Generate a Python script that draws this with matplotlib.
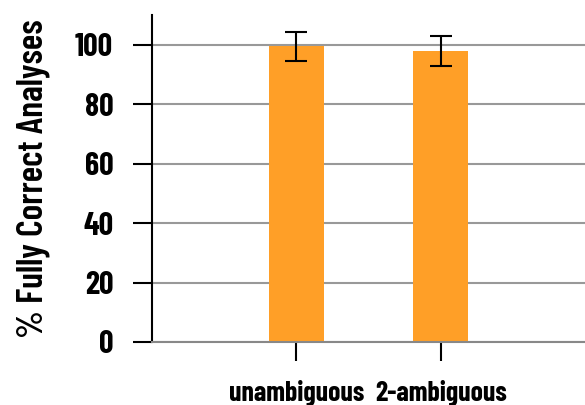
import matplotlib
matplotlib.use("Agg")
import matplotlib.pyplot as plt

# data
conditions = ["unambiguous", "2-ambiguous"]
pct_correct = [99.4, 98.0]
pct_err = [5.0, 5.0]
y_ticks = [0, 20, 40, 60, 80, 100]

plt.rcParams['font.family'] = ['Barlow Condensed', 'DejaVu Sans']
plt.rcParams['font.weight'] = 'bold'

fig = plt.figure(figsize=(5.85, 4.05), dpi=100)
ax = fig.add_axes([0.26, 0.1556, 0.74, 0.8074])

positions = [1, 2]
ax.bar(positions, pct_correct, width=0.38, color='#FF9F27', zorder=2)
ax.errorbar(positions, pct_correct, yerr=pct_err, fmt='none', ecolor='black',
            elinewidth=1.5, capsize=8, capthick=1.5, zorder=3)

ax.set_xlim(0, 3)
ax.set_ylim(0, 110)
ax.set_yticks(y_ticks)
ax.set_xticks(positions)
ax.set_xticklabels(conditions, fontsize=20)
ax.tick_params(axis='y', labelsize=23, length=14, width=1.5, direction='out', pad=14)
ax.tick_params(axis='x', length=14, width=1.5, direction='out', pad=13)

ax.yaxis.grid(True, color='#999999', linewidth=1.5, zorder=1)
ax.set_axisbelow(True)

ax.spines['top'].set_visible(False)
ax.spines['right'].set_visible(False)
ax.spines['left'].set_linewidth(1.5)
ax.spines['bottom'].set_color('#888888')
ax.spines['bottom'].set_linewidth(1.5)

ax.set_ylabel('% Fully Correct Analyses', fontsize=26, fontweight='semibold', labelpad=18)

fig.savefig('out.png', dpi=100)
